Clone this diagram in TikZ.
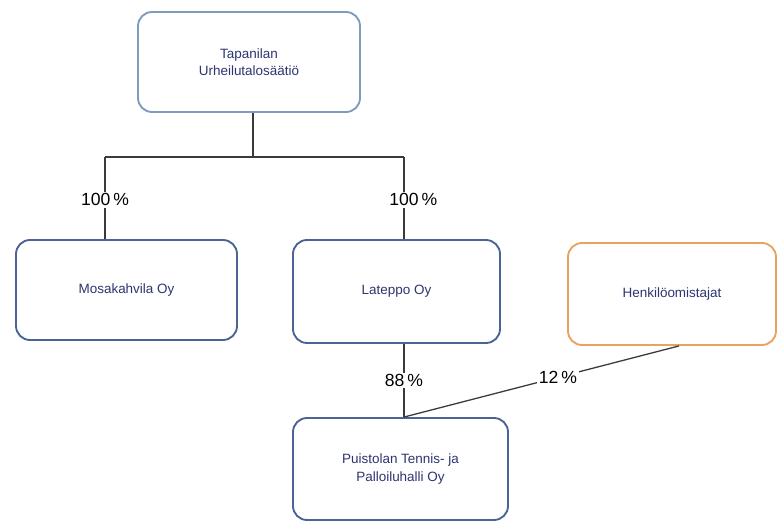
\documentclass[tikz,border=0pt]{standalone}
\usepackage{fontspec}
\setmainfont{Liberation Sans}
\usepackage{xcolor}
\usetikzlibrary{positioning}
\definecolor{boxblue}{HTML}{4A6496}
\definecolor{topblue}{HTML}{7F9CBF}
\definecolor{ownorange}{HTML}{E9A35E}
\definecolor{textnavy}{HTML}{2E3570}
\definecolor{linegrey}{HTML}{3A3A3A}
\tikzset{
  company/.style={draw=boxblue, line width=1.6pt, rounded corners=12pt, fill=white, align=center, text=textnavy, font=\fontsize{11.5}{15}\selectfont},
  owners/.style={company, draw=ownorange},
  share/.style={draw=linegrey, line width=1.1pt},
  pct/.style={fill=white, inner sep=1.5pt, font=\fontsize{15}{17}\selectfont, text=black}
}

\begin{document}
\begin{tikzpicture}[x=0.3mm,y=0.3mm]
  \useasboundingbox (0,0) rectangle (779,522);
  \node[company, draw=topblue, minimum width=66.6mm, minimum height=30mm] (saatio) at (249,460) {Tapanilan\\Urheilutalosäätiö};
  \node[company, minimum width=66.3mm, minimum height=30mm] (mosa) at (126.5,232) {Mosakahvila Oy};
  \node[company, minimum width=62.1mm, minimum height=30.9mm] (lateppo) at (396.5,230.5) {Lateppo Oy};
  \node[owners, minimum width=62.4mm, minimum height=30.6mm] (henk) at (672,228) {Henkilöomistajat};
  \node[company, minimum width=64.5mm, minimum height=30.6mm] (puisto) at (400.5,53) {Puistolan Tennis- ja\\Palloiluhalli Oy};

  \coordinate (bus) at (253,365);
  \coordinate (busl) at (105,365);
  \coordinate (busr) at (404,365);

  \draw[share] (saatio.south -| bus) -- (bus);
  \draw[share] (busl) -- (busr);
  \draw[share] (busl) -- node[pct, pos=0.52] {100\,\%} (mosa.north -| busl);
  \draw[share] (busr) -- node[pct, pos=0.52, xshift=8pt] {100\,\%} (lateppo.north -| busr);
  \draw[share] (lateppo.south -| busr) -- node[pct] {88\,\%} (puisto.north -| busr);
  \draw[share] (puisto.north -| busr) -- node[pct, pos=0.56] {12\,\%} ([xshift=6pt]henk.south);
\end{tikzpicture}
\end{document}
